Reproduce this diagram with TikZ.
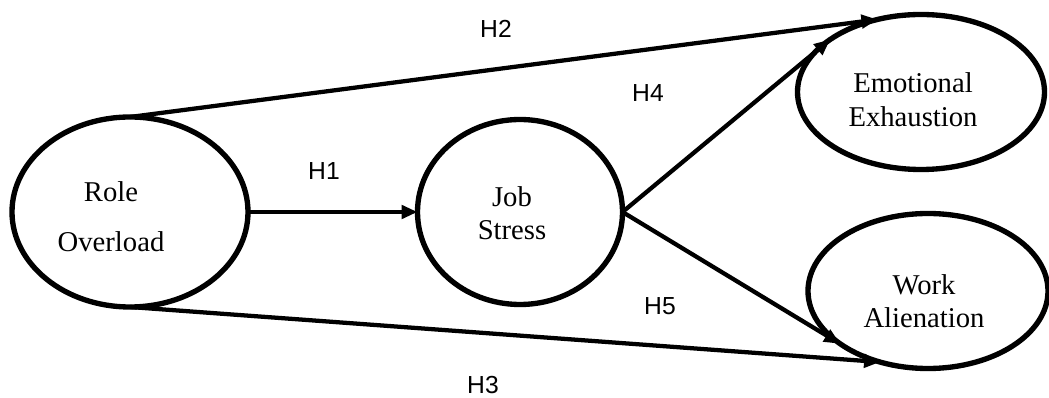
\documentclass[tikz,border=0pt]{standalone}
\usepackage{fontspec}
\setmainfont{Liberation Serif}
\newfontfamily\lsans{Liberation Sans}
\usetikzlibrary{arrows.meta,shapes.geometric}
\tikzset{
  construct/.style={ellipse, draw=black, line width=4pt, inner sep=0pt, outer sep=0pt, fill=none},
  ctext/.style={anchor=base, inner sep=0pt, font=\fontsize{21.5pt}{25pt}\selectfont},
  hlabel/.style={anchor=base, inner sep=0pt, font=\lsans\fontsize{18.5pt}{22pt}\selectfont},
  arr/.style={line width=3.2pt, -{Triangle[length=12pt,width=10pt]}}
}
\begin{document}
\begin{tikzpicture}[x=0.75pt, y=-0.75pt]
\useasboundingbox (0,0) rectangle (1049,398);
% constructs
\node[construct, minimum width=177pt, minimum height=142.5pt] (ro) at (130,212) {};
\node[construct, minimum width=153.75pt, minimum height=138.75pt] (js) at (520,212) {};
\node[construct, minimum width=185.25pt, minimum height=116.25pt] (ee) at (921,92) {};
\node[construct, minimum width=180pt, minimum height=116.25pt] (wa) at (928,291) {};
% texts
\node[ctext] (ro1) at (111,202) {Role};
\node[ctext] (ro2) at (111,252) {Overload};
\node[ctext] (js1) at (512,207) {Job};
\node[ctext] (js2) at (512,240) {Stress};
\node[ctext] (ee1) at (913,93) {Emotional};
\node[ctext] (ee2) at (913,127) {Exhaustion};
\node[ctext] (wa1) at (924,295) {Work};
\node[ctext] (wa2) at (924,328) {Alienation};
% arrows
\draw[arr] (ro.east) -- (js.west);
\draw[arr] (ro.north) -- (ee.121);
\draw[arr] (ro.south) -- (wa.236.7);
\draw[arr] (js.east) -- (ee.150);
\draw[arr] (js.east) -- (wa.211.6);
% labels
\node[hlabel] (h1) at (324,180) {H1};
\node[hlabel] (h2) at (496,38) {H2};
\node[hlabel] (h4) at (648,102) {H4};
\node[hlabel] (h5) at (660,315) {H5};
\node[hlabel] (h3) at (483,394) {H3};
\end{tikzpicture}
\end{document}
